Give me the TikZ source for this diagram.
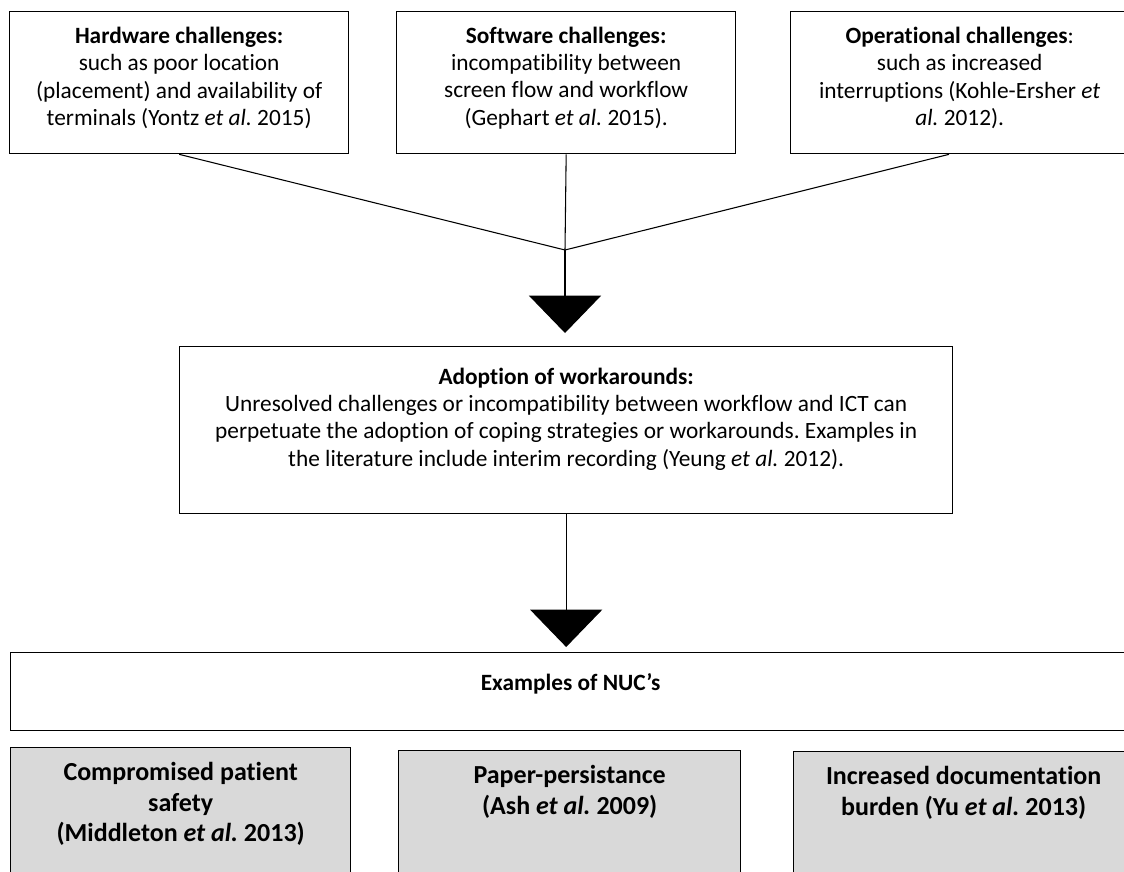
\documentclass[tikz,border=0pt]{standalone}
\usepackage{fontspec}
\setmainfont{Carlito}[Ligatures=CommonOff]
\usepackage{xcolor}
\usepackage{tikz}
\usetikzlibrary{arrows.meta, positioning}

\definecolor{nucgray}{HTML}{D9D9D9}
\frenchspacing

\begin{document}
\begin{tikzpicture}[
    x=0.75pt, y=-0.75pt,
    box/.style={draw, line width=1pt, rectangle, anchor=north west, align=flush center,
      inner xsep=0pt, inner ysep=4pt, font=\fontsize{17.5}{20.5}\selectfont},
    lift/.style={execute at end node={\endgraf\vspace*{#1}}},
    nuc/.style={box, fill=nucgray, inner ysep=11pt, lift=60pt,
      font=\fontsize{19.5}{23}\selectfont\bfseries},
    conn/.style={line width=0.8pt},
    arr/.style={line width=0.8pt, -{Triangle[width=54pt, length=28pt]}}
  ]
  \useasboundingbox (0,0) rectangle (1124,871);

  % three kinds of challenges
  \node[box, text width=254.25pt, minimum height=106.5pt, lift=7pt] (hw) at (9,11)
    {\textbf{Hardware challenges:}\\ such as poor location\\ (placement) and availability of\\ terminals (Yontz \emph{et al.} 2015)};
  \node[box, text width=254.25pt, minimum height=106.5pt, lift=7pt] (sw) at (396,11)
    {\textbf{Software challenges:}\\ incompatibility between\\ screen flow and workflow\\ (Gephart \emph{et al.} 2015).};
  \node[box, text width=253.5pt, minimum height=106.5pt, lift=7pt] (ops) at (790,11)
    {\textbf{Operational challenges}:\\ such as increased\\ interruptions (Kohle-Ersher \emph{et}\\ \emph{al.} 2012).};

  \coordinate (join) at (565,250);

  % workarounds
  \node[box, text width=579.75pt, minimum height=125.25pt, lift=17pt] (adopt) at (179,346)
    {\textbf{Adoption of workarounds:}\\ Unresolved challenges or incompatibility between workflow and ICT can\\ perpetuate the adoption of coping strategies or workarounds. Examples in\\ the literature include interim recording (Yeung \emph{et al.} 2012).};

  \node[box, text width=840pt, minimum height=58.5pt, lift=12pt] (examples) at (10,652)
    {\textbf{Examples of NUC’s}};

  % examples
  \node[nuc, text width=255pt] (safety) at (10,747)
    {Compromised patient\\ safety\\ (Middleton \emph{et al.} 2013)};
  \node[nuc, text width=256.5pt] (paper) at (398,750)
    {Paper-persistance\\ (Ash \emph{et al.} 2009)};
  \node[nuc, text width=255pt] (burden) at (793,751)
    {Increased documentation\\ burden (Yu \emph{et al.} 2013)};

  \draw[conn] (hw.south) -- (join);
  \draw[conn] (sw.south) -- (join);
  \draw[conn] ([xshift=-8pt]ops.south) -- (join);
  \draw[arr, shorten >=9.75pt] (join) -- (join |- adopt.north);
  \draw[arr, shorten >=3.75pt] (adopt.south) -- (adopt.south |- examples.north);
\end{tikzpicture}
\end{document}
